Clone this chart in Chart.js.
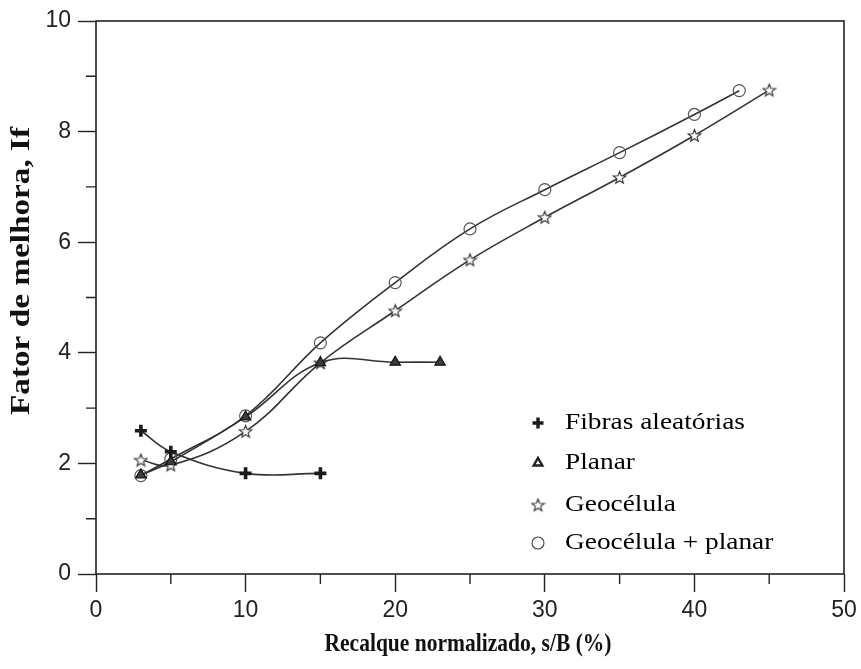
<!DOCTYPE html>
<html>
<head>
<meta charset="utf-8">
<title>Fator de melhora</title>
<script src="https://cdn.jsdelivr.net/npm/chart.js@4/dist/chart.umd.min.js"></script>
<style>
  html, body { margin: 0; padding: 0; background: #fff; }
  #wrap { width: 861px; height: 669px; }
</style>
</head>
<body>
<div id="wrap"><canvas id="chart" width="861" height="669"></canvas></div>
<script>
// values
const xFibras = [3, 5, 10, 15];
const yFibras = [2.59, 2.21, 1.82, 1.82];

const xPlanar = [3, 5, 10, 15, 20, 23];
const yPlanar = [1.79, 2.03, 2.84, 3.82, 3.83, 3.83];

const xGeo = [3, 5, 10, 15, 20, 25, 30, 35, 40, 45];
const yGeo = [2.06, 1.97, 2.58, 3.82, 4.76, 5.68, 6.45, 7.17, 7.93, 8.75];

const xGeoPlanar = [3, 5, 10, 15, 20, 25, 30, 35, 40, 43];
const yGeoPlanar = [1.78, 2.08, 2.86, 4.18, 5.27, 6.24, 6.95, 7.62, 8.31, 8.74];

const labels = ['Fibras aleatórias', 'Planar', 'Geocélula', 'Geocélula + planar'];
const xTicks = [0, 10, 20, 30, 40, 50];
const yTicks = [0, 2, 4, 6, 8, 10];
const xMinor = [5, 15, 25, 35, 45];
const yMinor = [1, 3, 5, 7, 9];
const xTitle = 'Recalque normalizado, s/B (%)';
const yTitle = 'Fator de melhora, If';

const ink = '#222';
const lineInk = '#333';

// hollow five point star used as a point style
function makeStar(size, stroke) {
  const c = document.createElement('canvas');
  c.width = size; c.height = size;
  const g = c.getContext('2d');
  const cx = size / 2, cy = size / 2 + 0.5;
  const ro = size / 2 - 1, ri = ro * 0.42;
  g.beginPath();
  for (let i = 0; i < 10; i++) {
    const r = i % 2 ? ri : ro;
    const a = -Math.PI / 2 + i * Math.PI / 5;
    const px = cx + r * Math.cos(a), py = cy + r * Math.sin(a);
    i ? g.lineTo(px, py) : g.moveTo(px, py);
  }
  g.closePath();
  g.fillStyle = '#fff';
  g.fill();
  g.strokeStyle = stroke;
  g.lineWidth = 1.1;
  g.stroke();
  return c;
}
const starImg = makeStar(15, '#333');

const toPoints = (xs, ys) => xs.map((x, i) => ({ x: x, y: ys[i] }));

const datasets = [
  {
    label: labels[0],
    data: toPoints(xFibras, yFibras),
    pointStyle: 'cross', pointRadius: 6, pointBorderWidth: 3.6,
    pointBorderColor: '#1a1a1a', pointBackgroundColor: '#1a1a1a'
  },
  {
    label: labels[1],
    data: toPoints(xPlanar, yPlanar),
    pointStyle: 'triangle', pointRadius: 6, pointBorderWidth: 1.2,
    pointBorderColor: '#111', pointBackgroundColor: '#3c3c3c'
  },
  {
    label: labels[2],
    data: toPoints(xGeo, yGeo),
    pointStyle: starImg, pointRadius: 7
  },
  {
    label: labels[3],
    data: toPoints(xGeoPlanar, yGeoPlanar),
    pointStyle: 'circle', pointRadius: 6, pointBorderWidth: 1.2,
    pointBorderColor: '#555', pointBackgroundColor: 'rgba(255,255,255,0)'
  }
].map(ds => Object.assign({
  borderColor: lineInk,
  borderWidth: 1.6,
  tension: 0.4,
  fill: false,
  showLine: true
}, ds));

// draws text squeezed or stretched to a given width
function fitText(ctx, text, cx, cy, font, width, angle) {
  ctx.save();
  ctx.font = font;
  const w = ctx.measureText(text).width;
  ctx.translate(cx, cy);
  ctx.rotate(angle || 0);
  ctx.scale(width / w, 1);
  ctx.textAlign = 'center';
  ctx.textBaseline = 'middle';
  ctx.fillText(text, 0, 0);
  ctx.restore();
}

const framePlugin = {
  id: 'frame',
  afterDraw(chart) {
    const { ctx, chartArea: a, scales } = chart;
    ctx.save();
    ctx.strokeStyle = ink;
    ctx.lineWidth = 1.6;
    ctx.strokeRect(a.left, a.top, a.right - a.left, a.bottom - a.top);

    // short minor ticks
    ctx.lineWidth = 1.4;
    ctx.beginPath();
    xMinor.forEach(v => {
      const px = scales.x.getPixelForValue(v);
      ctx.moveTo(px, a.bottom);
      ctx.lineTo(px, a.bottom + 10);
    });
    yMinor.forEach(v => {
      const py = scales.y.getPixelForValue(v);
      ctx.moveTo(a.left, py);
      ctx.lineTo(a.left - 10, py);
    });
    ctx.stroke();

    // axis titles
    ctx.fillStyle = '#111';
    fitText(ctx, xTitle, 468, 645, 'bold 25px "Liberation Serif"', 287);
    fitText(ctx, yTitle, 22, 271, 'bold 27px "Liberation Serif"', 288, -Math.PI / 2);

    // legend inside the plot
    const rows = [423, 463, 505, 543];
    ctx.font = '24px "Liberation Serif"';
    const k = 180 / ctx.measureText(labels[0]).width;
    chart.data.datasets.forEach((ds, i) => {
      const y = rows[i];
      const mx = 538;
      if (i === 0) {
        ctx.strokeStyle = '#1a1a1a';
        ctx.lineWidth = 3.4;
        ctx.beginPath();
        ctx.moveTo(mx - 5.5, y); ctx.lineTo(mx + 5.5, y);
        ctx.moveTo(mx, y - 5.5); ctx.lineTo(mx, y + 5.5);
        ctx.stroke();
      } else if (i === 1) {
        ctx.strokeStyle = '#222';
        ctx.fillStyle = '#fff';
        ctx.lineWidth = 2.4;
        Chart.helpers.drawPoint(ctx, { pointStyle: 'triangle', radius: 5, borderWidth: 2.4 }, mx, y);
      } else if (i === 2) {
        ctx.drawImage(starImg, mx - starImg.width / 2, y - starImg.height / 2);
      } else {
        ctx.strokeStyle = '#444';
        ctx.fillStyle = 'rgba(255,255,255,0)';
        ctx.lineWidth = 1.1;
        Chart.helpers.drawPoint(ctx, { pointStyle: 'circle', radius: 6, borderWidth: 1.1 }, mx, y);
      }
      ctx.save();
      ctx.fillStyle = '#000';
      ctx.textAlign = 'left';
      ctx.textBaseline = 'middle';
      ctx.translate(565, y);
      ctx.scale(k, 1);
      ctx.fillText(ds.label, 0, 0);
      ctx.restore();
    });
    ctx.restore();
  }
};

new Chart(document.getElementById('chart'), {
  type: 'line',
  data: { datasets: datasets },
  options: {
    responsive: false,
    animation: false,
    devicePixelRatio: 1,
    layout: { padding: { top: 21, right: 17, left: 0, bottom: 0 } },
    plugins: { legend: { display: false }, tooltip: { enabled: false } },
    scales: {
      x: {
        type: 'linear',
        min: 0, max: 50,
        afterBuildTicks: s => { s.ticks = xTicks.map(v => ({ value: v })); },
        afterFit: s => { s.height = 95; s.paddingLeft = 0; s.paddingRight = 0; },
        border: { display: false },
        grid: { drawOnChartArea: false, tickLength: 18, tickColor: ink, tickWidth: 1.4 },
        ticks: { color: ink, padding: 5, font: { family: '"Liberation Sans"', size: 23 } }
      },
      y: {
        min: 0, max: 10,
        afterBuildTicks: s => { s.ticks = yTicks.map(v => ({ value: v })); },
        afterFit: s => { s.width = 96; },
        border: { display: false },
        grid: { drawOnChartArea: false, tickLength: 18, tickColor: ink, tickWidth: 1.4 },
        ticks: { color: ink, padding: 7, font: { family: '"Liberation Sans"', size: 23 } }
      }
    }
  },
  plugins: [framePlugin]
});
</script>
</body>
</html>
